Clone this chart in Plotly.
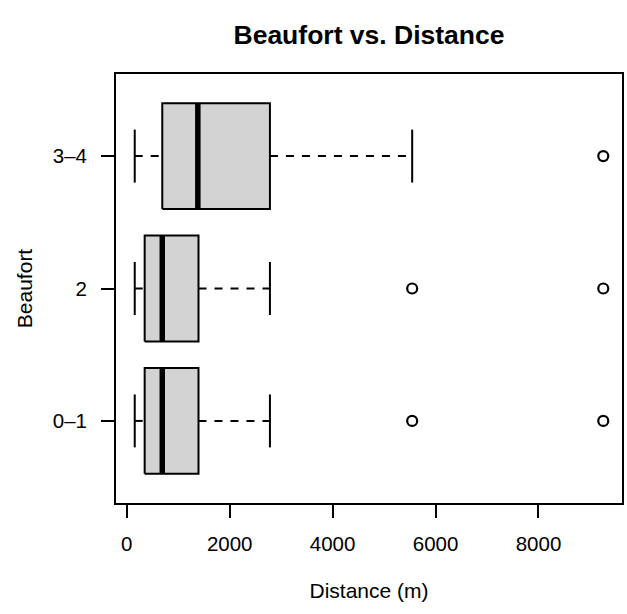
import plotly.graph_objects as go

# Data
categories = ["0–1", "2", "3–4"]
lower_whisker = [155, 155, 155]
q1 = [348, 348, 690]
median = [690, 690, 1381]
q3 = [1394, 1394, 2782]
upper_whisker = [2782, 2782, 5546]
outliers = [[5546, 9259], [5546, 9259], [9259]]

ypos = [1, 2, 3]
half = 0.4      # box half-height (category units)
cap = 0.2       # whisker cap half-height

fig = go.Figure()

# boxes
bx, by = [], []
for y, a, b in zip(ypos, q1, q3):
    bx += [a, b, b, a, a, None]
    by += [y - half, y - half, y + half, y + half, y - half, None]
fig.add_trace(go.Scatter(x=bx, y=by, mode="lines", fill="toself",
                         fillcolor="#D3D3D3", line=dict(color="black", width=2),
                         hoverinfo="skip", showlegend=False))

# dashed whiskers
wx, wy = [], []
for y, lo, a, b, hi in zip(ypos, lower_whisker, q1, q3, upper_whisker):
    wx += [lo, a, None, b, hi, None]
    wy += [y, y, None, y, y, None]
fig.add_trace(go.Scatter(x=wx, y=wy, mode="lines",
                         line=dict(color="black", width=2, dash="8px,8px"),
                         hoverinfo="skip", showlegend=False))

# caps
cx, cy = [], []
for y, lo, hi in zip(ypos, lower_whisker, upper_whisker):
    cx += [lo, lo, None, hi, hi, None]
    cy += [y - cap, y + cap, None, y - cap, y + cap, None]
fig.add_trace(go.Scatter(x=cx, y=cy, mode="lines",
                         line=dict(color="black", width=2),
                         hoverinfo="skip", showlegend=False))

# medians
mx, my = [], []
for y, m in zip(ypos, median):
    mx += [m, m, None]
    my += [y - half, y + half, None]
fig.add_trace(go.Scatter(x=mx, y=my, mode="lines",
                         line=dict(color="black", width=5.5),
                         hoverinfo="skip", showlegend=False))

# outliers
ox, oy = [], []
for y, outs in zip(ypos, outliers):
    for o in outs:
        ox.append(o)
        oy.append(y)
fig.add_trace(go.Scatter(x=ox, y=oy, mode="markers",
                         marker=dict(symbol="circle-open", size=10, color="black",
                                     line=dict(width=2.2)),
                         hoverinfo="skip", showlegend=False))

font = "Liberation Sans, Arial, Helvetica, sans-serif"
fig.update_layout(
    width=627, height=614,
    margin=dict(l=116, r=3, t=74, b=111),
    paper_bgcolor="white", plot_bgcolor="white",
    font=dict(family=font, size=18, color="black"),
    title=dict(text="<b>Beaufort vs. Distance</b>", x=0.5, xref="paper",
               y=1 - 35 / 614, yref="container", yanchor="middle", xanchor="center",
               font=dict(size=26.5, family=font, color="black")),
    xaxis=dict(range=[-209, 9623], tickvals=[0, 2000, 4000, 6000, 8000],
               showline=True, mirror=True, linecolor="black", linewidth=1.8,
               ticks="outside", ticklen=13, tickwidth=1.8, tickcolor="black",
               tickfont=dict(size=20.5), ticklabelstandoff=8,
               showgrid=False, zeroline=False,
               title=dict(text="Distance (m)", standoff=30,
                          font=dict(size=21, family=font, color="black"))),
    yaxis=dict(range=[0.38, 3.62], tickvals=ypos, ticktext=categories,
               showline=True, mirror=True, linecolor="black", linewidth=1.8,
               ticks="outside", ticklen=13, tickwidth=1.8, tickcolor="black",
               tickfont=dict(size=20.5), ticklabelstandoff=10,
               showgrid=False, zeroline=False,
               title=dict(text="Beaufort", standoff=14,
                          font=dict(size=21, family=font, color="black"))),
)

fig.write_html("out.html")
